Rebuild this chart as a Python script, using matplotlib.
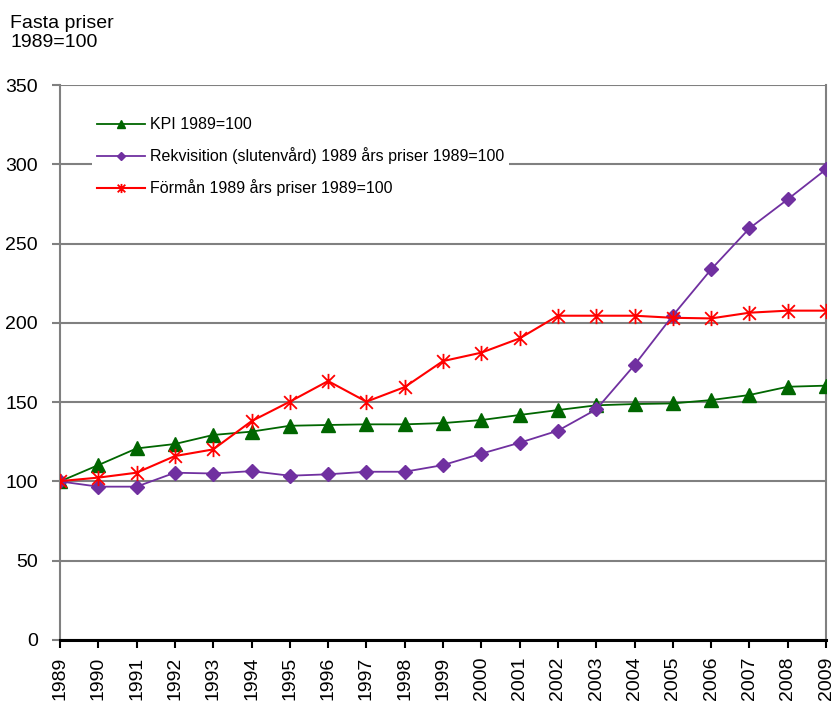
import numpy as np
import matplotlib
matplotlib.use("Agg")
from matplotlib import pyplot as plt
from matplotlib.path import Path

plt.rcParams.update({
    "font.family": ["Liberation Sans", "DejaVu Sans"],
})

years = np.arange(1989, 2010)

kpi = [100, 110.3, 120.8, 123.6, 129.3, 131.4, 135.1, 135.6, 136.0, 136.0,
       136.8, 138.7, 141.9, 145.0, 148.0, 148.8, 149.2, 151.3, 154.5, 159.7, 160.4]
rekvisition = [100, 96.7, 96.7, 105.5, 105.0, 106.5, 103.6, 104.5, 106.1, 106.1,
               110.3, 117.5, 124.4, 132.0, 145.4, 173.4, 204.6, 233.7, 259.6, 277.9, 296.8]
forman = [100.2, 102.4, 105.5, 116.0, 120.2, 138.0, 150.3, 163.3, 150.3, 159.5,
          175.9, 181.2, 190.2, 204.5, 204.5, 204.5, 203.2, 202.8, 206.4, 207.7, 207.7]

labels = ["KPI 1989=100",
          "Rekvisition (slutenvård) 1989 års priser 1989=100",
          "Förmån 1989 års priser 1989=100"]

# Excel-style star: an X with a vertical bar through it
star = Path([(-1, -1), (1, 1), (-1, 1), (1, -1), (0, -1.2), (0, 1.2)],
            [Path.MOVETO, Path.LINETO, Path.MOVETO, Path.LINETO, Path.MOVETO, Path.LINETO])

fig = plt.figure(figsize=(8.35, 7.02), dpi=100)
ax = fig.add_axes([60 / 835, (702 - 640) / 702, (826 - 60) / 835, (640 - 85) / 702])

grey = "#808080"
l1, = ax.plot(years, kpi, color="#006600", lw=1.3, marker="^", ms=10,
              mfc="#006600", mec="#006600", label=labels[0], zorder=3)
l2, = ax.plot(years, rekvisition, color="#7030A0", lw=1.3, marker="D", ms=7.5,
              mfc="#7030A0", mec="#7030A0", label=labels[1], zorder=4)
l3, = ax.plot(years, forman, color="#FF0000", lw=1.5, marker=star, ms=11,
              mfc="none", mec="#FF0000", mew=1.3, label=labels[2], zorder=5)

ax.set_xlim(1989, 2009)
ax.set_ylim(0, 350)
ax.set_yticks(np.arange(0, 351, 50))
ax.set_xticks(years)
ax.set_xticklabels([str(y) for y in years], rotation=90, fontsize=14)
ax.tick_params(axis="y", labelsize=14, color=grey, length=6, width=1.5, pad=10)
ax.tick_params(axis="x", color="black", length=6, width=1.5, pad=6)

ax.grid(axis="y", color=grey, lw=1.5, zorder=0)
ax.set_axisbelow(True)
for side in ["left", "right", "top"]:
    ax.spines[side].set_color(grey)
    ax.spines[side].set_linewidth(1.5)
ax.spines["top"].set_visible(False)
ax.spines["bottom"].set_color("black")
ax.spines["bottom"].set_linewidth(2.2)
ax.spines["bottom"].set_zorder(6)

leg = ax.legend(handles=[l1, l2, l3], loc="upper left", bbox_to_anchor=(0.032, 0.965),
                fontsize=11.5, frameon=True, framealpha=1, edgecolor="none",
                fancybox=False, markerscale=0.6, handlelength=3.0, labelspacing=0.95,
                handletextpad=0.3, borderpad=0.3)
leg.set_zorder(2)

fig.text(10 / 835, 1 - 33 / 702, "Fasta priser\n1989=100", fontsize=14,
         va="center", ha="left", linespacing=1.1)

fig.savefig("out.png", dpi=100)
